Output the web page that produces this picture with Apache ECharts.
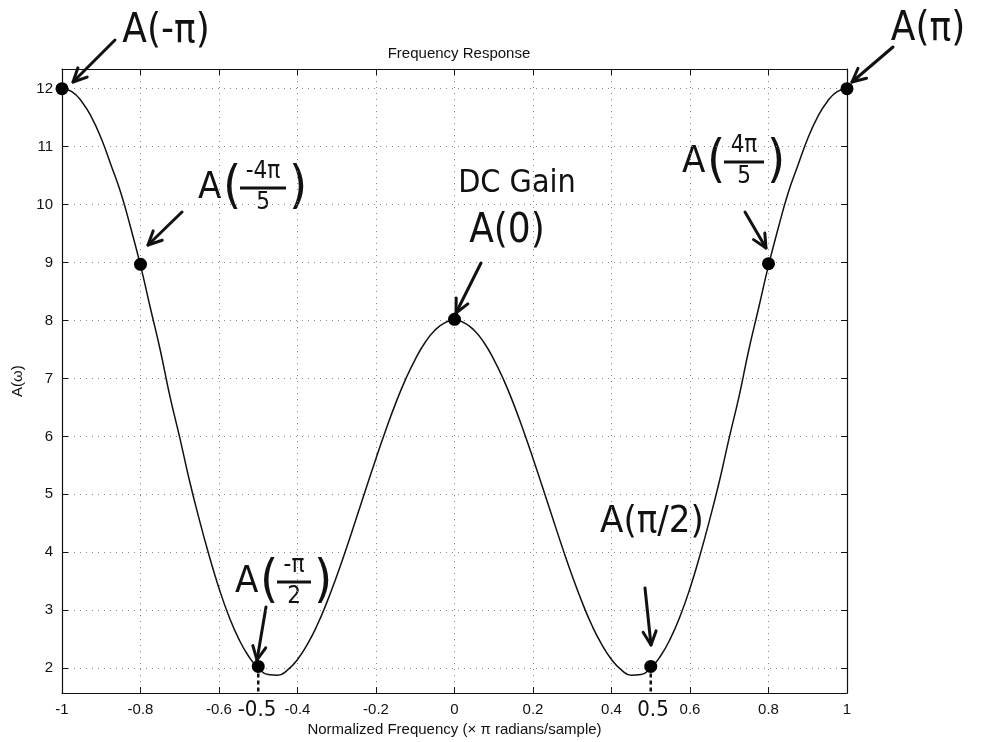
<!DOCTYPE html>
<html>
<head>
<meta charset="utf-8">
<title>Frequency Response</title>
<script src="https://cdn.jsdelivr.net/npm/echarts@6/dist/echarts.min.js"></script>
</head>
<body style="margin:0">
<div id="container" style="width:990px;height:742px"></div>
<script>
// normalized frequency (x pi rad/sample) and A(w)
var freq = [-1, -0.975, -0.95, -0.925, -0.9, -0.875, -0.85, -0.825, -0.8, -0.775,
            -0.75, -0.725, -0.7, -0.675, -0.65, -0.625, -0.6, -0.575, -0.55, -0.525,
            -0.5, -0.475, -0.45, -0.425, -0.4, -0.375, -0.35, -0.325, -0.3, -0.275,
            -0.25, -0.225, -0.2, -0.175, -0.15, -0.125, -0.1, -0.075, -0.05, -0.025,
            0,
            0.025, 0.05, 0.075, 0.1, 0.125, 0.15, 0.175, 0.2, 0.225, 0.25,
            0.275, 0.3, 0.325, 0.35, 0.375, 0.4, 0.425, 0.45, 0.475, 0.5,
            0.525, 0.55, 0.575, 0.6, 0.625, 0.65, 0.675, 0.7, 0.725, 0.75,
            0.775, 0.8, 0.825, 0.85, 0.875, 0.9, 0.925, 0.95, 0.975, 1];
var amp = [12, 11.95, 11.78, 11.51, 11.14, 10.68, 10.2, 9.6, 8.95, 8.22,
           7.5, 6.69, 5.98, 5.23, 4.56, 3.94, 3.38, 2.9, 2.51, 2.21,
           2.0, 1.89, 1.88, 1.97, 2.15, 2.41, 2.74, 3.14, 3.59, 4.08,
           4.59, 5.11, 5.62, 6.11, 6.57, 6.98, 7.33, 7.62, 7.83, 7.96,
           8,
           7.96, 7.83, 7.62, 7.33, 6.98, 6.57, 6.11, 5.62, 5.11, 4.59,
           4.08, 3.59, 3.14, 2.74, 2.41, 2.15, 1.97, 1.88, 1.89, 2.0,
           2.21, 2.51, 2.9, 3.38, 3.94, 4.56, 5.23, 5.98, 6.69, 7.5,
           8.22, 8.95, 9.6, 10.2, 10.68, 11.14, 11.51, 11.78, 11.95, 12];
// hand-marked points
var dotFreq = [-1, -0.8, -0.5, 0, 0.5, 0.8, 1];
var dotAmp = [12, 8.97, 2.03, 8.02, 2.03, 8.98, 12];
var yTicks = [2, 3, 4, 5, 6, 7, 8, 9, 10, 11, 12];

var yMin = 1.57, yMax = 12.34;

var curve = freq.map(function (f, i) { return [f, amp[i]]; });
var dots = dotFreq.map(function (f, i) { return [f, dotAmp[i]]; });

var chart = echarts.init(document.getElementById('container'));

var ink = '#111';
var hand = 'DejaVu Sans Condensed, DejaVu Sans';

function arrow(x1, y1, x2, y2) {
    var a = Math.atan2(y2 - y1, x2 - x1), h = 15, s = 0.45;
    return {
        type: 'group',
        children: [
            { type: 'line', shape: { x1: x1, y1: y1, x2: x2, y2: y2 },
              style: { stroke: ink, lineWidth: 3, lineCap: 'round' } },
            { type: 'polyline',
              shape: { points: [[x2 - h * Math.cos(a - s), y2 - h * Math.sin(a - s)], [x2, y2],
                                [x2 - h * Math.cos(a + s), y2 - h * Math.sin(a + s)]] },
              style: { stroke: ink, lineWidth: 3, fill: null, lineJoin: 'round', lineCap: 'round' } }
        ]
    };
}

function txt(x, y, s, size) {
    return { type: 'text', x: x, y: y,
             style: { text: s, fontSize: size, fontFamily: hand, fill: ink,
                      align: 'center', verticalAlign: 'middle' } };
}

function fracLabel(x0, ym, num, den, w) {
    return {
        type: 'group',
        children: [
            { type: 'text', x: x0, y: ym,
              style: { text: 'A', fontSize: 38, fontFamily: hand, fill: ink, align: 'left', verticalAlign: 'middle' } },
            { type: 'text', x: x0 + 25, y: ym,
              style: { text: '(', fontSize: 52, fontFamily: hand, fill: ink, align: 'left', verticalAlign: 'middle' } },
            txt(x0 + 42 + w / 2, ym - 16, num, 24),
            { type: 'line', shape: { x1: x0 + 42, y1: ym, x2: x0 + 42 + w, y2: ym },
              style: { stroke: ink, lineWidth: 3 } },
            txt(x0 + 42 + w / 2, ym + 15, den, 24),
            { type: 'text', x: x0 + 45 + w, y: ym,
              style: { text: ')', fontSize: 52, fontFamily: hand, fill: ink, align: 'left', verticalAlign: 'middle' } }
        ]
    };
}

var gridLine = { show: true, lineStyle: { color: '#888', width: 1, type: [1, 5] } };
var tickIn = { show: true, inside: true, length: 6, lineStyle: { color: ink } };
var axisFont = { color: ink, fontSize: 15, fontFamily: 'Liberation Sans' };

var option = {
    backgroundColor: '#fff',
    animation: false,
    title: {
        text: 'Frequency Response',
        left: 454, top: 41, textAlign: 'center',
        textStyle: { fontSize: 15, fontWeight: 'normal', color: ink, fontFamily: 'Liberation Sans' }
    },
    grid: { left: 62, right: 143, top: 69, bottom: 46 },
    xAxis: [{
        type: 'value', min: -1, max: 1, interval: 0.2,
        name: 'Normalized Frequency (\u00d7 \u03c0 radians/sample)',
        nameLocation: 'middle', nameGap: 28,
        nameTextStyle: axisFont,
        axisLine: { show: true, onZero: false, lineStyle: { color: ink, width: 1.2 } },
        axisTick: tickIn,
        axisLabel: Object.assign({ margin: 9,
            formatter: function (v) { return String(Math.round(v * 10) / 10); } }, axisFont),
        splitLine: gridLine
    }, {
        type: 'value', min: -1, max: 1, interval: 0.2, position: 'top',
        axisLine: { show: true, onZero: false, lineStyle: { color: ink, width: 1.2 } },
        axisTick: tickIn, axisLabel: { show: false }, splitLine: { show: false }
    }],
    yAxis: [{
        type: 'value', min: yMin, max: yMax,
        name: 'A(\u03c9)', nameLocation: 'middle', nameGap: 36,
        nameTextStyle: axisFont,
        axisLine: { show: true, onZero: false, lineStyle: { color: ink, width: 1.2 } },
        axisTick: Object.assign({ customValues: yTicks }, tickIn),
        axisLabel: Object.assign({ customValues: yTicks, margin: 9 }, axisFont),
        splitLine: gridLine
    }, {
        type: 'value', min: yMin, max: yMax, position: 'right',
        axisLine: { show: true, onZero: false, lineStyle: { color: ink, width: 1.2 } },
        axisTick: Object.assign({ customValues: yTicks }, tickIn),
        axisLabel: { show: false }, splitLine: { show: false }
    }],
    series: [{
        type: 'line', data: curve, smooth: true, showSymbol: false,
        lineStyle: { color: ink, width: 1.5 }, z: 3
    }, {
        type: 'scatter', data: dots, symbolSize: 13,
        itemStyle: { color: '#000', opacity: 1 }, z: 4
    }, {
        // dashed drop lines from the +/-0.5 points to the axis
        type: 'line', showSymbol: false,
        data: [[dotFreq[2], dotAmp[2]], [dotFreq[2], yMin]],
        lineStyle: { color: ink, width: 2.5, type: [4, 3] }
    }, {
        type: 'line', showSymbol: false,
        data: [[dotFreq[4], dotAmp[4]], [dotFreq[4], yMin]],
        lineStyle: { color: ink, width: 2.5, type: [4, 3] }
    }],
    graphic: [
        txt(166, 32, 'A(-\u03c0)', 40),
        arrow(115, 40, 73, 82),
        txt(928, 30, 'A(\u03c0)', 40),
        arrow(893, 47, 852, 82),
        fracLabel(198, 188, '-4\u03c0', '5', 46),
        arrow(182, 212, 148, 245),
        txt(517, 184, 'DC Gain', 32),
        txt(507, 232, 'A(0)', 40),
        arrow(481, 263, 456, 313),
        fracLabel(682, 162, '4\u03c0', '5', 40),
        arrow(745, 212, 766, 248),
        txt(652, 522, 'A(\u03c0/2)', 38),
        arrow(645, 588, 651, 645),
        fracLabel(235, 582, '-\u03c0', '2', 34),
        arrow(266, 607, 257, 660),
        { type: 'rect', shape: { x: 238, y: 698, width: 38, height: 22 }, style: { fill: '#fff' } },
        txt(257, 710, '-0.5', 22),
        { type: 'rect', shape: { x: 636, y: 698, width: 34, height: 22 }, style: { fill: '#fff' } },
        txt(653, 710, '0.5', 22)
    ]
};
chart.setOption(option);
</script>
</body>
</html>
